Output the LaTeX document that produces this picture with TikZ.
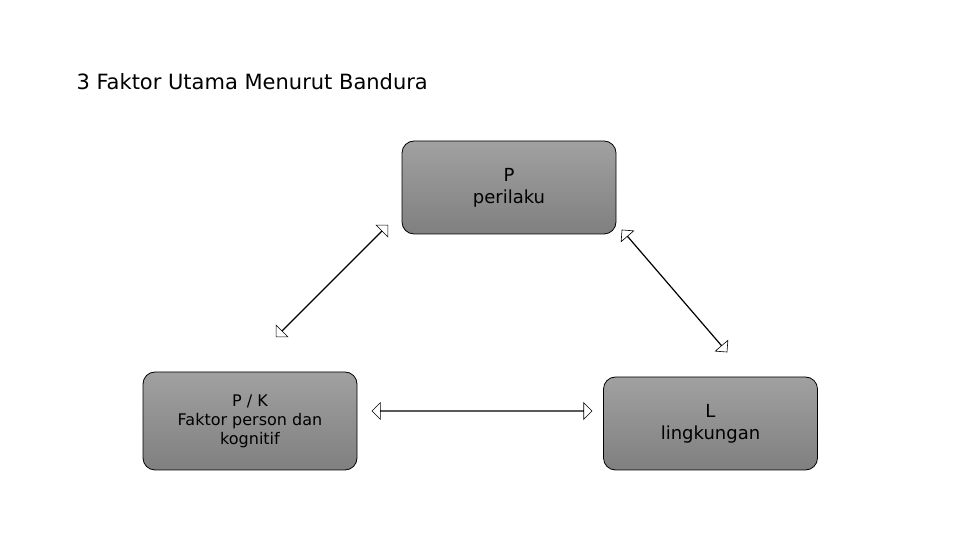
\documentclass[tikz,border=0pt]{standalone}
\usepackage{fontspec}
\setmainfont{DejaVu Sans}
\usetikzlibrary{shapes.arrows}
\begin{document}
\begin{tikzpicture}[x=1pt,y=1pt,
  box/.style={draw=black,line width=0.8pt,rounded corners=12pt,top color=gray!72,bottom color=gray!100!black!100,bottom color=black!50,top color=black!37,minimum width=214pt,align=center,font=\fontsize{18}{22}\selectfont},
  darr/.style={draw=black,fill=white,double arrow,double arrow head extend=8pt,minimum width=13pt,inner sep=0pt,line width=0.6pt}]
\useasboundingbox (0,0) rectangle (960,540);
\node[font=\fontsize{21}{25}\selectfont,anchor=west] (t) at (73,458) {3 Faktor Utama Menurut Bandura};
\node[box,minimum height=93pt] (p) at (509,352.5) {P\\perilaku};
\node[box,minimum height=98pt,font=\fontsize{16}{19}\selectfont] (pk) at (250,119) {P / K\\Faktor person dan\\kognitif};
\node[box,minimum height=93pt] (l) at (710.5,116.5) {L\\lingkungan};
\node[darr,minimum height=158pt,rotate=45] (a1) at (332,259) {};
\node[darr,minimum height=161pt,rotate=-49.3] (a2) at (674.5,249) {};
\node[darr,minimum height=220pt] (a3) at (482,129) {};
\end{tikzpicture}
\end{document}
